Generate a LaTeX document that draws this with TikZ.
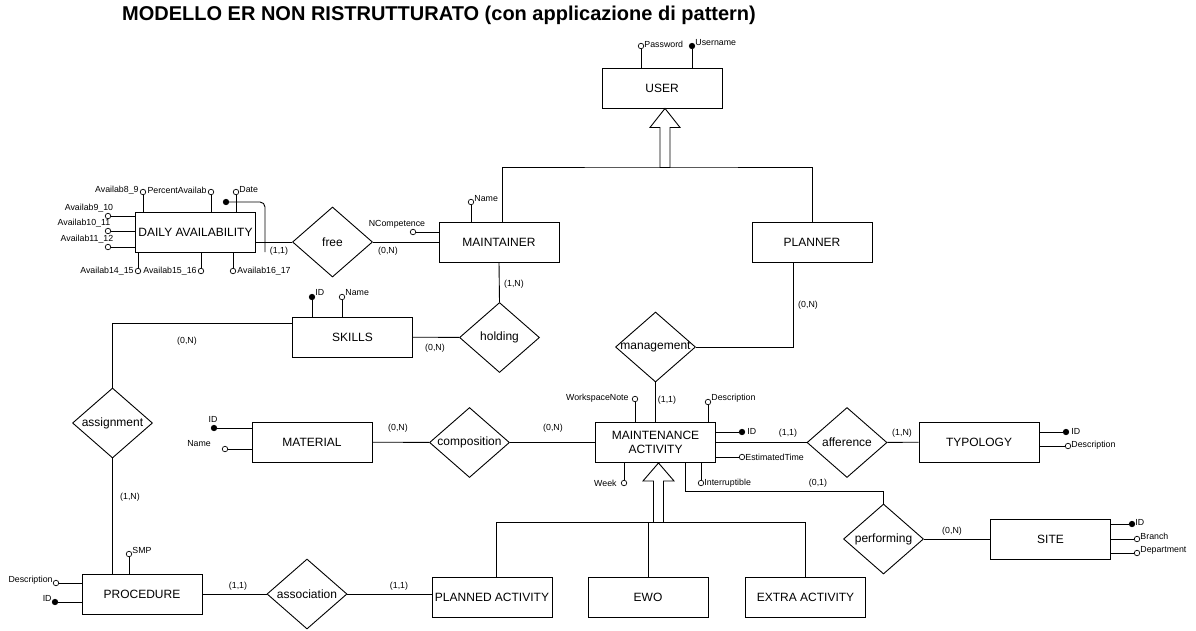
\documentclass[tikz,border=0pt]{standalone}
\usepackage{fontspec}
\setmainfont{Liberation Sans}
\usetikzlibrary{shapes.geometric,positioning}

\def\rl#1{\makebox[0pt]{#1}}

\begin{document}
\begin{tikzpicture}[
  x=1pt, y=-1pt,
  every path/.style={line width=0.9pt},
  entity/.style={draw, fill=white, minimum width=120pt, minimum height=40pt,
    align=center, inner sep=1pt, font=\fontsize{12}{14}\selectfont},
  rel/.style={draw, diamond, fill=white, minimum width=80pt, minimum height=70pt,
    inner sep=0pt, font=\fontsize{12}{14}\selectfont},
  attr/.style={draw, circle, fill=white, inner sep=0pt, minimum size=5.5pt, line width=0.7pt},
  key/.style={attr, fill=black},
  small/.style={inner sep=0pt, font=\fontsize{8.8}{10}\selectfont},
  isa/.style={draw, fill=white}
]
\useasboundingbox (0,0) rectangle (1196,630);

\node[font=\fontsize{20}{24}\selectfont\bfseries] (title) at (439,15)
  {MODELLO ER NON RISTRUTTURATO (con applicazione di pattern)};

% entities
\node[entity] (user) at (662,88) {USER};
\node[entity] (mnt) at (499,242) {MAINTAINER};
\node[entity] (plan) at (812,242) {PLANNER};
\node[entity] (da) at (195.5,232) {DAILY AVAILABILITY};
\node[entity] (skills) at (352.5,337) {SKILLS};
\node[entity] (ma) at (655.5,442.5) {MAINTENANCE\\ACTIVITY};
\node[entity] (mat) at (312,442) {MATERIAL};
\node[entity] (typ) at (979,442) {TYPOLOGY};
\node[entity] (site) at (1050.5,539) {SITE};
\node[entity] (proc) at (142,594) {PROCEDURE};
\node[entity] (pa) at (492,597) {PLANNED ACTIVITY};
\node[entity] (ewo) at (648,597) {EWO};
\node[entity] (xa) at (805.5,597) {EXTRA ACTIVITY};

% relationships
\node[rel] (free) at (332.5,242) {\rl{free}};
\node[rel] (hold) at (499.5,337.5) {\rl{holding}};
\node[rel] (mgmt) at (655.5,347) {\rl{management}};
\node[rel] (assign) at (112.5,423) {\rl{assignment}};
\node[rel] (comp) at (469.5,442.5) {\rl{composition}};
\node[rel] (aff) at (847,442.5) {\rl{afference}};
\node[rel] (perf) at (883.5,539) {\rl{performing}};
\node[rel] (assoc) at (307,594) {\rl{association}};

% links
\draw (free.west) -- (free.west -| da.east);
\draw (free) -- (mnt);
\draw (mnt.south) -- (hold.north);
\draw (hold) -- (skills);
\draw ([yshift=14pt]skills.west) -| (assign.north);
\draw (assign.south) -- (assign.south |- proc.north);
\draw (proc) -- (assoc);
\draw (assoc.east) -- (assoc.east -| pa.west);
\draw (mat) -- (comp);
\draw (comp.east) -- (ma.west);
\draw (ma.north) -- (mgmt.south);
\draw (mgmt.east) -| ([xshift=-19pt]plan.south);
\draw (ma.east) -- (aff.west);
\draw (aff) -- (typ);
\draw ([xshift=30pt]ma.south) |- ([yshift=12pt]perf.north) -- (perf.north);
\draw (perf) -- (site);

% generalizations
\coordinate (ufork) at (665,167);
\coordinate (mfork) at (659,522);
\draw ([xshift=3pt]mnt.north) |- (ufork) -| (plan.north);
\draw ([xshift=4pt]pa.north) |- (mfork) -| (xa.north);
\draw (ewo.north) -- (ewo.north |- mfork);
\draw[isa] ([xshift=3pt]user.south) -- ++(15,19) -- ++(-10,0) -- ++(0,40)
  -- ++(-10,0) -- ++(0,-40) -- ++(-10,0) -- cycle;
\draw[isa] ([xshift=3pt]ma.south) -- ++(15.5,18) -- ++(-10.5,0) -- ++(0,41.5)
  -- ++(-10,0) -- ++(0,-41.5) -- ++(-10.5,0) -- cycle;

% cardinalities
\node[small] (c1) at (279,251) {(1,1)};
\node[small] (c2) at (388,251) {(0,N)};
\node[small] (c3) at (514,284) {(1,N)};
\node[small] (c4) at (435,348) {(0,N)};
\node[small] (c5) at (187,341) {(0,N)};
\node[small] (c6) at (130,497) {(1,N)};
\node[small] (c7) at (238,586) {(1,1)};
\node[small] (c8) at (399,586) {(1,1)};
\node[small] (c9) at (398,428) {(0,N)};
\node[small] (c10) at (553,428) {(0,N)};
\node[small] (c11) at (667,400) {(1,1)};
\node[small] (c12) at (808,305) {(0,N)};
\node[small] (c13) at (788,433) {(1,1)};
\node[small] (c14) at (902,433) {(1,N)};
\node[small] (c15) at (818,483) {(0,1)};
\node[small] (c16) at (952,531) {(0,N)};

% USER attributes
\node[attr] (upw) at (641,46) {};
\node[key] (uname) at (692,46) {};
\draw (upw) -- (upw |- user.north);
\draw (uname) -- (uname |- user.north);
\node[small, anchor=west] (upwl) at (644,44) {Password};
\node[small, anchor=west] (unamel) at (695,43) {Username};

% MAINTAINER attributes
\node[attr] (mname) at (471,202) {};
\draw (mname) -- (mname |- mnt.north);
\node[small, anchor=west] (mnamel) at (474,199) {Name};
\node[attr] (ncomp) at (413,232) {};
\draw (ncomp) -- (ncomp -| mnt.west);
\node[small] (ncompl) at (397,224) {NCompetence};

% SKILLS attributes
\node[key] (sid) at (312,297) {};
\node[attr] (sname) at (342,297) {};
\draw (sid) -- (sid |- skills.north);
\draw (sname) -- (sname |- skills.north);
\node[small, anchor=west] (sidl) at (315,292) {ID};
\node[small, anchor=west] (snamel) at (345,293) {Name};

% DAILY AVAILABILITY attributes
\foreach \n/\y/\lx/\ly/\t in {a/216/89/208/9\_10, b/231/84/223/10\_11, c/247/87/239/11\_12}{
  \node[attr] (da\n) at (108,\y) {};
  \draw (da\n) -- (da\n -| da.west);
  \node[small] (da\n l) at (\lx,\ly) {Availab\t};
}
\foreach \n/\x/\t in {d/138/14\_15, e/201/15\_16}{
  \node[attr] (da\n) at (\x,271) {};
  \draw (da\n) -- (da\n |- da.south);
  \node[small, anchor=east] (da\n l) at (\x-4,271) {Availab\t};
}
\node[attr] (daf) at (233,271) {};
\draw (daf) -- (daf |- da.south);
\node[small, anchor=west] (dafl) at (237,271) {Availab16\_17};
\node[attr] (dag) at (143,192) {};
\node[attr] (pct) at (211,192) {};
\node[attr] (date) at (236,192) {};
\foreach \n in {dag,pct,date}{
  \draw (\n) -- (\n |- da.north);
}
\node[small, anchor=east] (dagl) at (139,190) {Availab8\_9};
\node[small, anchor=east] (pctl) at (207,190) {PercentAvailab};
\node[small, anchor=west] (datel) at (239,190) {Date};
\node[key] (dkey) at (226,202) {};
\coordinate (dend) at (265,252);
\draw[rounded corners=5pt] (dkey) -| (dend);

% MAINTENANCE ACTIVITY attributes
\node[attr] (wsn) at (635,399) {};
\draw (wsn) -- (wsn |- ma.north);
\node[small, anchor=east] (wsnl) at (629,398) {WorkspaceNote};
\node[attr] (madesc) at (708,402) {};
\draw (madesc) -- (madesc |- ma.north);
\node[small, anchor=west] (madescl) at (711,398) {Description};
\node[key] (maid) at (742,432) {};
\draw (maid) -- (maid -| ma.east);
\node[small, anchor=west] (maidl) at (747,431) {ID};
\node[attr] (est) at (742,457) {};
\draw (est) -- (est -| ma.east);
\node[small, anchor=west] (estl) at (745,457) {EstimatedTime};
\node[attr] (week) at (624,483) {};
\draw (week) -- (week |- ma.south);
\node[small, anchor=east] (weekl) at (617,483) {Week};
\node[attr] (intr) at (701,483) {};
\draw (intr) -- (intr |- ma.south);
\node[small, anchor=west] (intrl) at (704,483) {Interruptible};

% MATERIAL attributes
\node[key] (matid) at (214,428) {};
\draw (matid) -- (matid -| mat.west);
\node[small] (matidl) at (213,419) {ID};
\node[attr] (matname) at (225,449) {};
\draw (matname) -- (matname -| mat.west);
\node[small] (matnamel) at (199,444) {Name};

% TYPOLOGY attributes
\node[key] (tid) at (1066,432) {};
\draw (tid) -- (tid -| typ.east);
\node[small, anchor=west] (tidl) at (1071,431) {ID};
\node[attr] (tdesc) at (1068,446) {};
\draw (tdesc) -- (tdesc -| typ.east);
\node[small, anchor=west] (tdescl) at (1071,445) {Description};

% SITE attributes
\node[key] (siteid) at (1132,524) {};
\draw (siteid) -- (siteid -| site.east);
\node[small, anchor=west] (siteidl) at (1135,522) {ID};
\node[attr] (sbr) at (1137,539) {};
\draw (sbr) -- (sbr -| site.east);
\node[small, anchor=west] (sbrl) at (1140,536) {Branch};
\node[attr] (sdep) at (1137,553) {};
\draw (sdep) -- (sdep -| site.east);
\node[small, anchor=west] (sdepl) at (1140,550) {Department};

% PROCEDURE attributes
\node[attr] (smp) at (129,554) {};
\draw (smp) -- (smp |- proc.north);
\node[small, anchor=west] (smpl) at (132,550) {SMP};
\node[attr] (pdesc) at (56,583) {};
\draw (pdesc) -- (pdesc -| proc.west);
\node[small, anchor=east] (pdescl) at (53,580) {Description};
\node[key] (pid) at (55,602) {};
\draw (pid) -- (pid -| proc.west);
\node[small, anchor=east] (pidl) at (52,598) {ID};

\end{tikzpicture}
\end{document}
